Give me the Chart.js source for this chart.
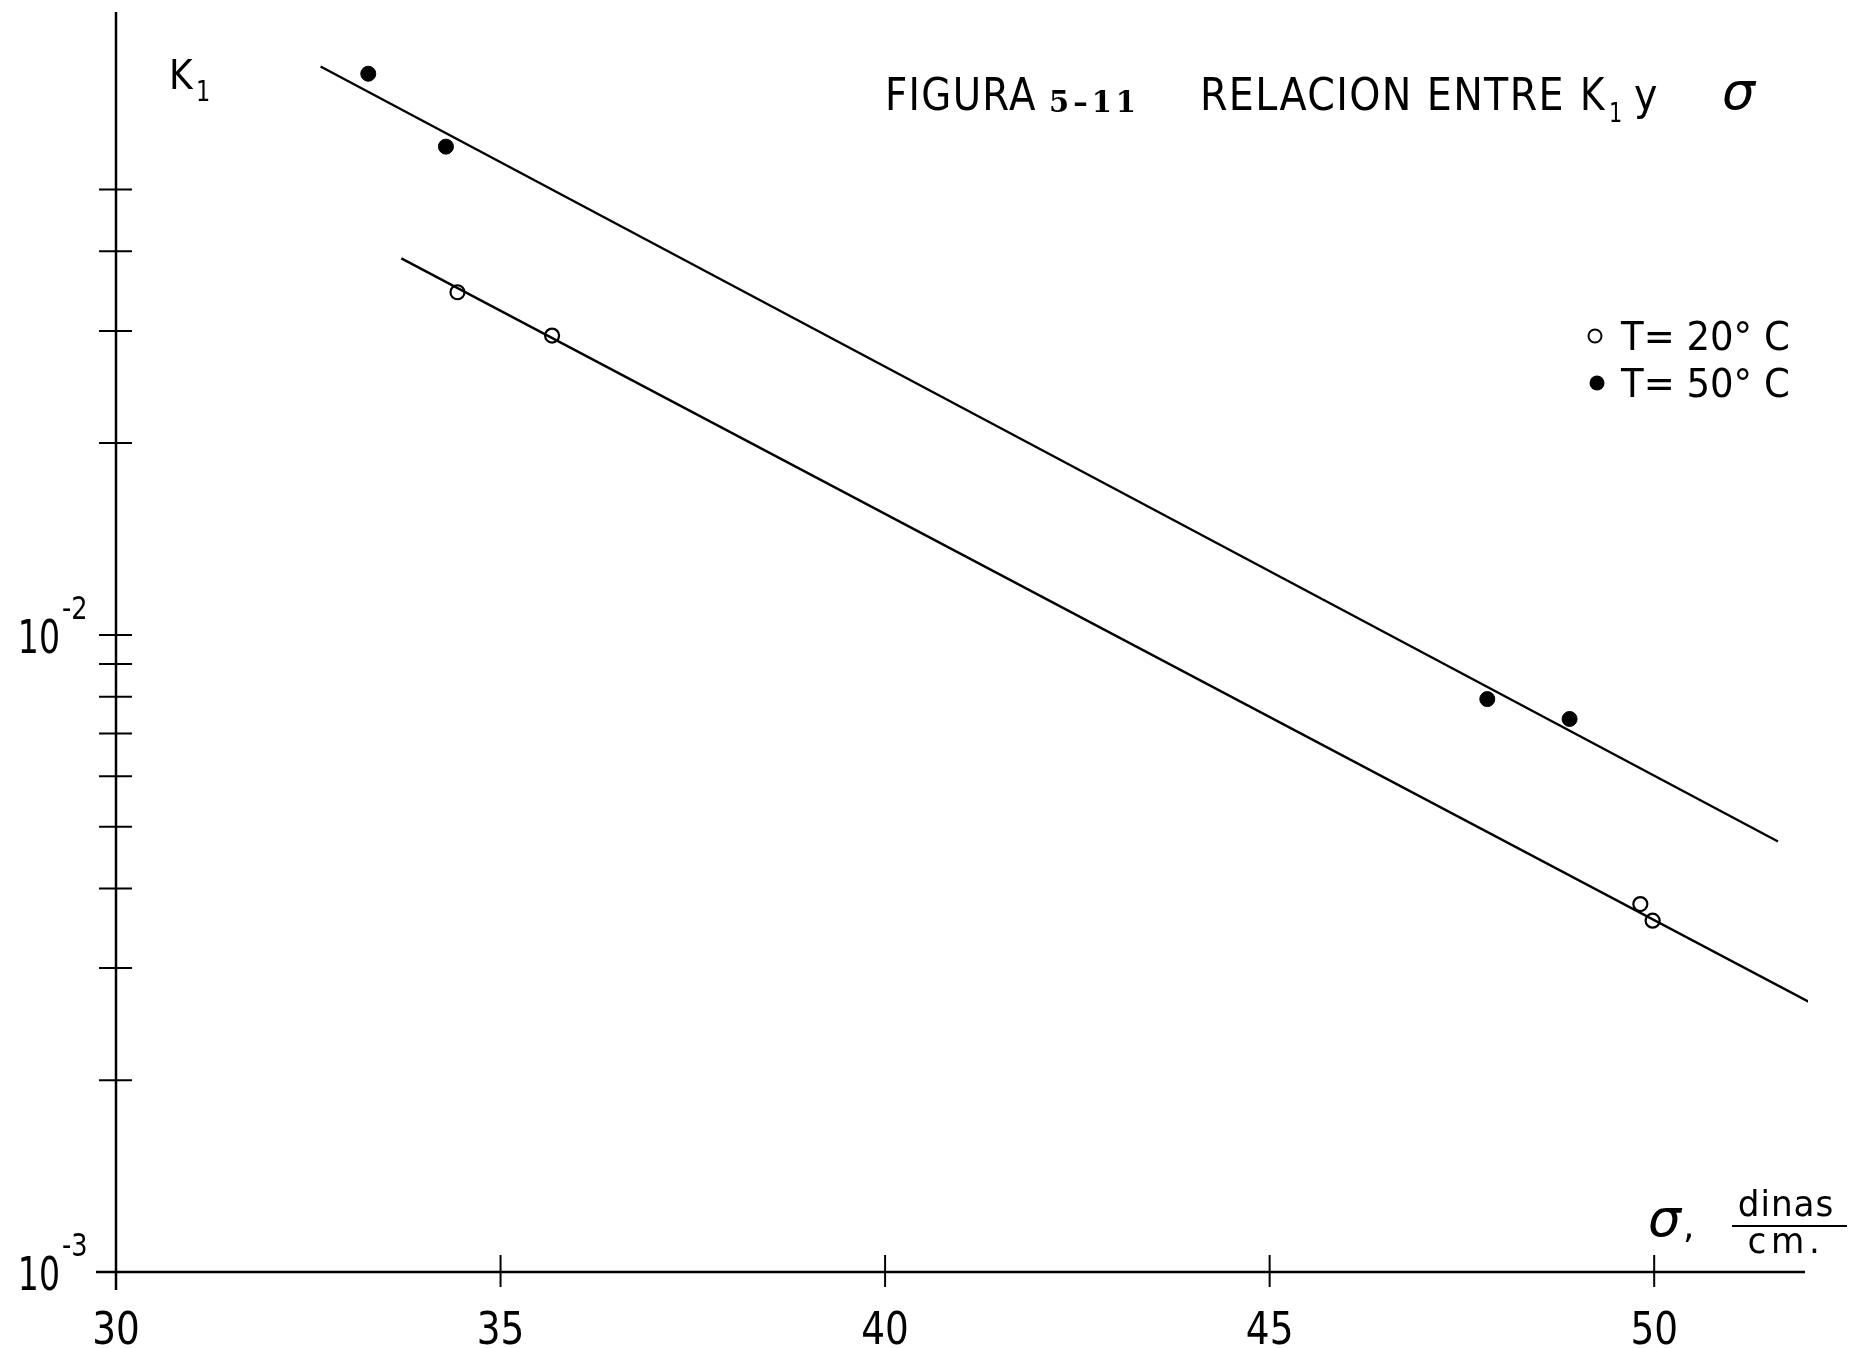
<!DOCTYPE html>
<html>
<head>
<meta charset="utf-8">
<script src="https://cdn.jsdelivr.net/npm/chart.js@4"></script>
<style>
html,body{margin:0;padding:0;background:#fff;}
#wrap{width:1850px;height:1348px;}
canvas{display:block;}
</style>
</head>
<body>
<div id="wrap"><canvas id="c" width="1850" height="1348"></canvas></div>
<script>
// ---- data ----
const t20X = [34.44, 35.67, 49.82, 49.98];
const t20Y = [0.0345, 0.0295, 0.00378, 0.00356];
const t50X = [33.28, 34.29, 47.83, 48.90];
const t50Y = [0.0760, 0.0584, 0.00793, 0.00738];
const fit20X = [33.71, 52.05];
const fit20Y = [0.0390, 0.00264];
const fit50X = [32.66, 51.61];
const fit50Y = [0.0780, 0.00474];

// ---- axis ticks / labels ----
const xTickValues = [30, 35, 40, 45, 50];
const xTickLabels = ['30', '35', '40', '45', '50'];
const yTickValues = [0.002,0.003,0.004,0.005,0.006,0.007,0.008,0.009,0.01,0.02,0.03,0.04,0.05];
const yLabelValues = [0.01, 0.001];
const yLabelBase = ['10', '10'];
const yLabelExp = ['-2', '-3'];
const legendLabels = ['T= 20° C', 'T= 50° C'];
const titleParts = ['FIGURA', '5–11', 'RELACION ENTRE', 'K', '1', 'y', 'σ'];
const yAxisTitle = ['K', '1'];
const xAxisTitle = ['σ', ',', 'dinas', 'cm.'];

const pts = (xs, ys) => xs.map((x, i) => ({x: x, y: ys[i]}));

function txt(ctx, s, x, y, font, align, sx, ls) {
  ctx.save();
  ctx.font = font;
  ctx.textAlign = align || 'left';
  ctx.textBaseline = 'alphabetic';
  ctx.letterSpacing = (ls || 0) + 'px';
  ctx.fillStyle = '#000';
  ctx.translate(x, y);
  ctx.scale(sx || 1, 1);
  ctx.fillText(s, 0, 0);
  ctx.restore();
}
function seg(ctx, x1, y1, x2, y2, w) {
  ctx.save();
  ctx.strokeStyle = '#000';
  ctx.lineWidth = w || 2;
  ctx.beginPath(); ctx.moveTo(x1, y1); ctx.lineTo(x2, y2); ctx.stroke();
  ctx.restore();
}

const FONT = '"DejaVu Sans", "Noto Sans", sans-serif';

const axesPlugin = {
  id: 'handAxes',
  beforeDatasetsDraw(chart) {
    const ctx = chart.ctx;
    const xs = chart.scales.x, ys = chart.scales.y;
    const x0 = xs.getPixelForValue(30);
    const yb = ys.getPixelForValue(0.001);
    const top = chart.chartArea.top;
    // y axis
    seg(ctx, x0, top, x0, yb + 18, 2.5);
    // x axis
    seg(ctx, x0 - 20, yb, xs.getPixelForValue(52) - 3, yb, 2.5);
    // x ticks (crossing)
    xTickValues.forEach((v, i) => {
      const px = xs.getPixelForValue(v);
      if (v !== 30) seg(ctx, px, yb - 17, px, yb + 15, 2);
      txt(ctx, xTickLabels[i], px, yb + 72, '44px ' + FONT, 'center', 0.85);
    });
    // y ticks (crossing)
    yTickValues.forEach(v => {
      const py = ys.getPixelForValue(v);
      seg(ctx, x0 - 17, py, x0 + 16, py, 2);
    });
    // y labels 10^-2, 10^-3
    yLabelValues.forEach((v, i) => {
      const py = ys.getPixelForValue(v);
      txt(ctx, yLabelBase[i], 60, py + 18, '46px ' + FONT, 'right', 0.72);
      txt(ctx, yLabelExp[i], 62, py - 16, '32px ' + FONT, 'left', 0.8);
    });
    // y axis title K1
    txt(ctx, yAxisTitle[0], 169, 89, '40px ' + FONT, 'left', 0.9);
    txt(ctx, yAxisTitle[1], 196, 101, '28px ' + FONT, 'left', 0.8);
    // x axis title
    txt(ctx, xAxisTitle[0], 1648, 1236, 'italic 52px ' + FONT, 'left', 1);
    txt(ctx, xAxisTitle[1], 1683, 1238, '36px ' + FONT, 'left', 1);
    txt(ctx, xAxisTitle[2], 1786, 1216, '36px ' + FONT, 'center', 0.95, 1);
    seg(ctx, 1732, 1226, 1847, 1226, 2);
    txt(ctx, xAxisTitle[3], 1786, 1253, '36px ' + FONT, 'center', 0.95, 5);
    // title
    txt(ctx, titleParts[0], 885, 110, '44px ' + FONT, 'left', 0.88, 1.5);
    txt(ctx, titleParts[1], 1049, 112, 'bold 29px "DejaVu Serif", "Liberation Serif", serif', 'left', 1, 4);
    txt(ctx, titleParts[2], 1200, 110, '44px ' + FONT, 'left', 0.9, 1.5);
    txt(ctx, titleParts[3], 1580, 110, '44px ' + FONT, 'left', 0.85);
    txt(ctx, titleParts[4], 1609, 122, '26px ' + FONT, 'left', 0.8);
    txt(ctx, titleParts[5], 1634, 110, '44px ' + FONT, 'left', 0.9);
    txt(ctx, titleParts[6], 1722, 109, 'italic 52px ' + FONT, 'left', 1);
    // legend
    ctx.save();
    ctx.strokeStyle = '#000'; ctx.lineWidth = 2;
    ctx.beginPath(); ctx.arc(1595, 336, 6.5, 0, Math.PI * 2); ctx.stroke();
    ctx.fillStyle = '#000';
    ctx.beginPath(); ctx.arc(1597, 383, 7.5, 0, Math.PI * 2); ctx.fill();
    ctx.restore();
    txt(ctx, legendLabels[0], 1621, 350, '39px ' + FONT, 'left', 0.95);
    txt(ctx, legendLabels[1], 1621, 397, '39px ' + FONT, 'left', 0.95);
  }
};

new Chart(document.getElementById('c'), {
  type: 'scatter',
  data: {
    datasets: [
      {label: legendLabels[0], data: pts(t20X, t20Y), pointRadius: 7, pointStyle: 'circle',
       pointBackgroundColor: 'rgba(0,0,0,0)', pointBorderColor: '#000', pointBorderWidth: 2.2, showLine: false},
      {label: legendLabels[1], data: pts(t50X, t50Y), pointRadius: 7.5, pointStyle: 'circle',
       pointBackgroundColor: '#000', pointBorderColor: '#000', pointBorderWidth: 1, showLine: false},
      {label: 'ajuste 20', data: pts(fit20X, fit20Y), showLine: true, pointRadius: 0,
       borderColor: '#000', borderWidth: 2.4, fill: false},
      {label: 'ajuste 50', data: pts(fit50X, fit50Y), showLine: true, pointRadius: 0,
       borderColor: '#000', borderWidth: 2.4, fill: false}
    ]
  },
  options: {
    responsive: false,
    animation: false,
    devicePixelRatio: 1,
    events: [],
    layout: {padding: {left: 116, right: 42, top: 12, bottom: 76}},
    scales: {
      x: {type: 'linear', min: 30, max: 52, display: false},
      y: {type: 'logarithmic', min: 0.001, max: 0.095, display: false}
    },
    plugins: {legend: {display: false}, tooltip: {enabled: false}, title: {display: false}}
  },
  plugins: [axesPlugin]
});
</script>
</body>
</html>
